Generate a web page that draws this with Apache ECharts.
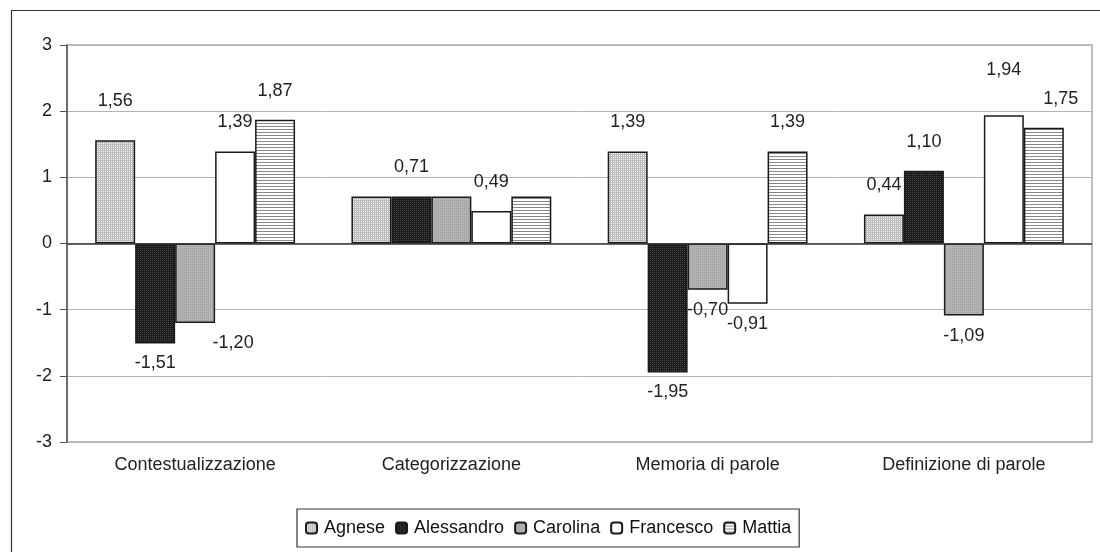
<!DOCTYPE html>
<html><head><meta charset="utf-8">
<script src="https://cdn.jsdelivr.net/npm/echarts@6/dist/echarts.min.js"></script>
<style>html,body{margin:0;padding:0;background:#fff}#c{width:1100px;height:552px}</style>
</head><body><div id="c"></div>
<script>
var categories = ['Contestualizzazione', 'Categorizzazione', 'Memoria di parole', 'Definizione di parole'];
var seriesNames = ['Agnese', 'Alessandro', 'Carolina', 'Francesco', 'Mattia'];
var agnese     = [1.56, 0.71, 1.39, 0.44];
var alessandro = [-1.51, 0.71, -1.95, 1.10];
var carolina   = [-1.20, 0.71, -0.70, -1.09];
var francesco  = [1.39, 0.49, -0.91, 1.94];
var mattia     = [1.87, 0.71, 1.39, 1.75];
// which labels are visible in the original (overlapping labels were dropped)
var labelShown = {
  Agnese:     [true, false, true, true],
  Alessandro: [true, true, true, true],
  Carolina:   [true, false, true, true],
  Francesco:  [true, true, true, true],
  Mattia:     [true, false, true, true]
};
// label nudges as placed in the original (style only)
var labelNudge = {
  Agnese:     [[0, -10], null, null, null],
  Carolina:   [[38, 0], null, null, null],
  Francesco:  [null, null, null, [0, -16]],
  Mattia:     [null, null, null, [17, 0]]
};
var yTicks = [-3, -2, -1, 0, 1, 2, 3];

function pattern(w, h, draw) {
  var c = document.createElement('canvas');
  c.width = w; c.height = h;
  var g = c.getContext('2d');
  draw(g);
  return { image: c, repeat: 'repeat' };
}
var fills = {
  Agnese: pattern(2, 2, function (g) {
    g.fillStyle = '#f2f2f2'; g.fillRect(0, 0, 2, 2);
    g.fillStyle = '#bcbcbc'; g.fillRect(0, 0, 2, 1); g.fillRect(0, 1, 1, 1);
  }),
  Alessandro: pattern(2, 2, function (g) {
    g.fillStyle = '#1a1a1a'; g.fillRect(0, 0, 2, 2);
    g.fillStyle = '#4a4a4a'; g.fillRect(0, 0, 1, 1);
  }),
  Carolina: pattern(2, 2, function (g) {
    g.fillStyle = '#b4b4b4'; g.fillRect(0, 0, 2, 2);
    g.fillStyle = '#9c9c9c'; g.fillRect(0, 0, 1, 1);
  }),
  Francesco: '#ffffff',
  Mattia: pattern(3, 3, function (g) {
    g.fillStyle = '#ffffff'; g.fillRect(0, 0, 3, 3);
    g.fillStyle = '#8a8a8a'; g.fillRect(0, 0, 3, 1);
  })
};
var values = { Agnese: agnese, Alessandro: alessandro, Carolina: carolina, Francesco: francesco, Mattia: mattia };

function fmt(v) { return v.toFixed(2).replace('.', ','); }

var FONT = 'Liberation Sans';
var FS = 18;
var series = seriesNames.map(function (name, si) {
  var s = {
    name: name,
    type: 'bar',
    barGap: '0%',
    barCategoryGap: '22%',
    itemStyle: { color: fills[name], borderColor: '#1a1a1a', borderWidth: 1.5 },
    data: values[name].map(function (v, i) {
      var nudge = labelNudge[name] && labelNudge[name][i];
      var lab = {
        show: labelShown[name][i],
        position: v >= 0 ? 'top' : 'bottom',
        distance: v >= 0 ? 20 : 11
      };
      if (nudge) lab.offset = nudge;
      return { value: v, label: lab };
    }),
    label: {
      fontFamily: FONT, fontSize: FS, color: '#222',
      formatter: function (p) { return fmt(p.value); }
    },
    emphasis: { disabled: true }
  };
  if (si === 0) {
    s.markLine = {
      silent: true, symbol: 'none', label: { show: false },
      lineStyle: { color: '#333', width: 1.5, type: 'solid' },
      data: [{ yAxis: 0 }]
    };
  }
  return s;
});

var chart = echarts.init(document.getElementById('c'), null, { renderer: 'canvas' });
chart.setOption({
  animation: false,
  backgroundColor: '#fff',
  textStyle: { fontFamily: FONT },
  graphic: [{
    type: 'rect', left: 9, top: 8, shape: { width: 1100, height: 560 },
    style: { fill: 'none', stroke: '#333', lineWidth: 1.2 }, silent: true, z: -1
  }],
  grid: {
    left: 67, right: 8, top: 45, bottom: 110,
    show: true, borderColor: '#a8a8a8', borderWidth: 1.5
  },
  legend: {
    data: seriesNames,
    left: 297, top: 509,
    itemWidth: 11, itemHeight: 11, itemGap: 10,
    padding: [10, 8, 10, 8],
    borderColor: '#333', borderWidth: 1.2,
    textStyle: { fontFamily: FONT, fontSize: FS, color: '#111', padding: [0, 0, 0, 2] },
    selectedMode: false
  },
  xAxis: {
    type: 'category', data: categories,
    axisLine: { show: false, onZero: false },
    axisTick: { show: false },
    axisLabel: { fontFamily: FONT, fontSize: FS, color: '#222', margin: 14 }
  },
  yAxis: {
    type: 'value', min: -3, max: 3, interval: 1,
    axisLine: { show: true, lineStyle: { color: '#555', width: 1.5 } },
    axisTick: { show: true, length: 7, lineStyle: { color: '#555' } },
    axisLabel: {
      fontFamily: FONT, fontSize: FS, color: '#222', margin: 15,
      formatter: function (v) { return yTicks.indexOf(v) >= 0 ? String(v) : ''; }
    },
    splitLine: { show: true, lineStyle: { color: '#b4b4b4', width: 1 } }
  },
  series: series
});
</script></body></html>
